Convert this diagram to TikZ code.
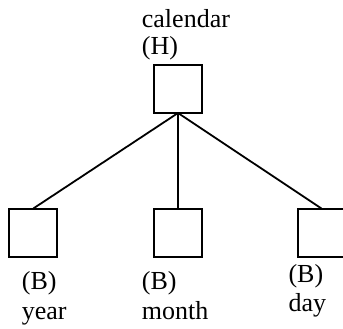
\documentclass[tikz,border=0pt]{standalone}
\usepackage{fontspec}
\setmainfont{Liberation Serif}
\begin{document}
\begin{tikzpicture}[x=1bp,y=-1bp,
  entity/.style={draw,line width=2bp,minimum size=48bp,inner sep=0pt,outer sep=0pt},
  link/.style={line width=1.8bp},
  lbl/.style={anchor=base west,inner sep=0pt,font=\fontsize{26bp}{30bp}\selectfont}]
  \clip (0,0) rectangle (343,329);
  % boxes
  \node[entity] (cal)   at (178,89)    {};
  \node[entity] (year)  at (33.3,232.5) {};
  \node[entity] (month) at (178,232.5) {};
  \node[entity] (day)   at (321.5,232.5) {};
  % connectors from the parent to each child
  \draw[link] (cal.south) -- (year.north);
  \draw[link] (cal.south) -- (month.north);
  \draw[link] (cal.south) -- (day.north);
  % labels
  \node[lbl] (calname) at (141.7,27) {calendar};
  \node[lbl] (caltag)  at (141.7,54) {(H)};
  \node[lbl] (yeartag)  at (21.7,289) {(B)};
  \node[lbl] (yearname) at (21.7,319) {year};
  \node[lbl] (monthtag)  at (141.7,289) {(B)};
  \node[lbl] (monthname) at (141.7,319) {month};
  \node[lbl] (daytag)  at (288.3,282.5) {(B)};
  \node[lbl] (dayname) at (288.3,311) {day};
\end{tikzpicture}
\end{document}
